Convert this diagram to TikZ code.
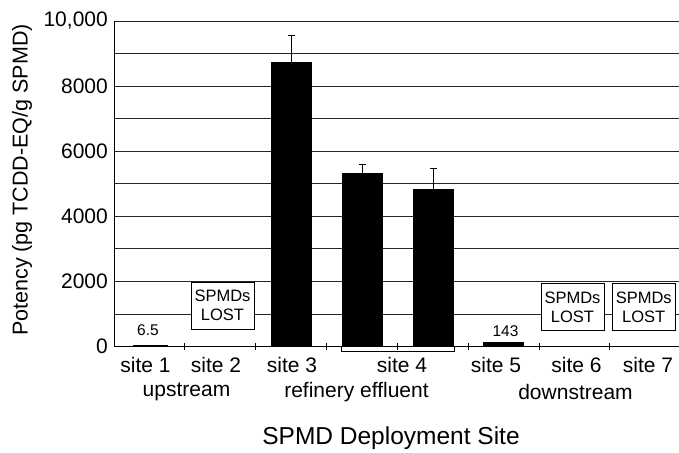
\documentclass[tikz,border=0pt]{standalone}
\usepackage{fontspec}
\setmainfont{Liberation Sans}
\begin{document}
\begin{tikzpicture}[x=1pt,y=-1pt,
  gridline/.style={line width=0.9pt, black!85},
  axisline/.style={line width=1pt, black},
  barbox/.style={fill=black, draw=black, line width=0.6pt},
  errbar/.style={line width=1pt, black},
  ticklab/.style={font=\fontsize{21}{24}\selectfont, anchor=east, inner sep=0pt},
  catlab/.style={font=\fontsize{21}{24}\selectfont, inner sep=0pt},
  vallab/.style={font=\fontsize{15.5}{17}\selectfont, inner sep=0pt},
  lostbox/.style={draw, line width=0.7pt, fill=white, font=\fontsize{16.5}{19}\selectfont,
    align=center, inner sep=0pt, minimum width=63pt, minimum height=47pt}]
\useasboundingbox (0,0) rectangle (679,452);
% gridlines
\foreach \v in {1000,2000,...,10000}
  \draw[gridline] (114,{346.5-0.03255*\v}) -- (679,{346.5-0.03255*\v});
% axes
\draw[axisline] (114,21) -- (114,346.5) -- (679,346.5);
\foreach \xx in {184,255,326,397,468,539,609}
  \draw[axisline] (\xx,343) -- (\xx,350);
% site 4 bracket
\draw[line width=0.8pt] (341,346.5) rectangle (454.3,351.7);
\draw[axisline] (397,343) -- (397,350);
% y tick labels
\node[ticklab] (t10) at (108,21) {10,000};
\node[ticklab] (t8) at (108,86.1) {8000};
\node[ticklab] (t6) at (108,151.2) {6000};
\node[ticklab] (t4) at (108,216.3) {4000};
\node[ticklab] (t2) at (108,281.4) {2000};
\node[ticklab] (t0) at (108,346.5) {0};
% bars
\fill[black] (133,345.3) rectangle (168,347);
\draw[barbox] (271.5,{346.5-0.03255*8730}) rectangle (311.5,346.5);
\draw[barbox] (342.5,{346.5-0.03255*5330}) rectangle (382.5,346.5);
\draw[barbox] (413.5,{346.5-0.03255*4815}) rectangle (453.5,346.5);
\draw[barbox] (483,{346.5-0.03255*143}) rectangle (523.5,346.5);
% error bars
\draw[errbar] (291.5,{346.5-0.03255*8730}) -- (291.5,{346.5-0.03255*9548})
  (288,{346.5-0.03255*9548}) -- (295,{346.5-0.03255*9548});
\draw[errbar] (362.5,{346.5-0.03255*5330}) -- (362.5,{346.5-0.03255*5585})
  (359,{346.5-0.03255*5585}) -- (366,{346.5-0.03255*5585});
\draw[errbar] (433.5,{346.5-0.03255*4815}) -- (433.5,{346.5-0.03255*5475})
  (430,{346.5-0.03255*5475}) -- (437,{346.5-0.03255*5475});
% value labels
\node[vallab] (v1) at (148,330) {6.5};
\node[vallab] (v5) at (505.5,331) {143};
% lost boxes
\node[lostbox] (lost2) at (222.5,305.4) {SPMDs\\LOST};
\node[lostbox] (lost6) at (572.5,307) {SPMDs\\LOST};
\node[lostbox] (lost7) at (643.7,307) {SPMDs\\LOST};
% site labels
\node[catlab] (s1) at (145.5,365) {site 1};
\node[catlab] (s2) at (216,365) {site 2};
\node[catlab] (s3) at (292,365) {site 3};
\node[catlab] (s4) at (402,365) {site 4};
\node[catlab] (s5) at (496,365) {site 5};
\node[catlab] (s6) at (576.5,365) {site 6};
\node[catlab] (s7) at (648,365) {site 7};
% group labels
\node[catlab] (g1) at (186.5,392) {upstream};
\node[catlab] (g2) at (356.5,392) {refinery effluent};
\node[catlab] (g3) at (575.5,392) {downstream};
% axis titles
\node[font=\fontsize{24.5}{27}\selectfont, inner sep=0pt] (xt) at (391,438) {SPMD Deployment Site};
\node[font=\fontsize{21.5}{24}\selectfont, inner sep=0pt, rotate=90] (yt) at (22,180) {Potency (pg TCDD-EQ/g SPMD)};
\end{tikzpicture}
\end{document}
